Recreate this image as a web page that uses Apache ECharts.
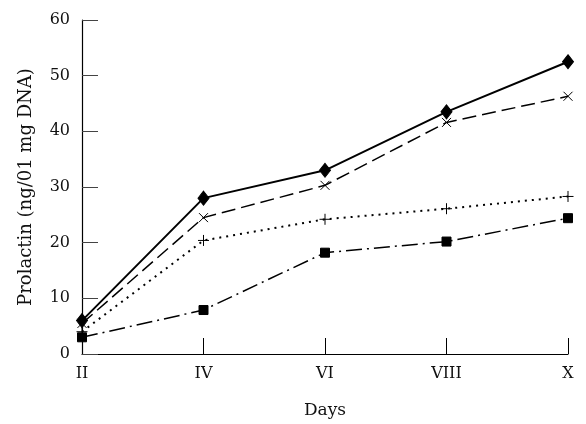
<!DOCTYPE html>
<html>
<head>
<meta charset="utf-8">
<script src="https://cdn.jsdelivr.net/npm/echarts@6/dist/echarts.min.js"></script>
<style>
  html, body { margin: 0; padding: 0; background: #fff; }
  #chart { width: 586px; height: 424px; }
</style>
</head>
<body>
<div id="chart"></div>
<script>
const days = ["II", "IV", "VI", "VIII", "X"];
const diamondValues = [6, 28, 33, 43.5, 52.5];
const crossValues = [5.5, 24.5, 30.3, 41.6, 46.3];
const plusValues = [4, 20.4, 24.2, 26.1, 28.3];
const squareValues = [3, 7.9, 18.2, 20.2, 24.4];
const yTicks = [0, 10, 20, 30, 40, 50, 60];

const chart = echarts.init(document.getElementById("chart"));
const font = "'DejaVu Serif', 'Liberation Serif', serif";

function lineSeries(name, data, lineType, symbol, size, width) {
    return {
        name: name,
        type: "line",
        data: data,
        symbol: symbol,
        symbolSize: size,
        showAllSymbol: true,
        lineStyle: { color: "#000", width: width, type: lineType },
        itemStyle: { color: "#000", borderColor: "#000", borderWidth: 1 },
        z: 3
    };
}

chart.setOption({
    animation: false,
    backgroundColor: "#fff",
    grid: { left: 82, right: 18, top: 20, bottom: 67 },
    xAxis: {
        type: "category",
        data: days,
        boundaryGap: false,
        name: "Days",
        nameLocation: "middle",
        nameGap: 48,
        nameTextStyle: { fontFamily: font, fontSize: 17, color: "#111" },
        axisLine: { lineStyle: { color: "#000", width: 1.2 } },
        axisTick: { show: true, inside: true, length: 16, lineStyle: { color: "#000" } },
        axisLabel: { fontFamily: font, fontSize: 16, color: "#111", margin: 12 },
        splitLine: { show: false }
    },
    yAxis: {
        type: "value",
        min: yTicks[0],
        max: yTicks[yTicks.length - 1],
        interval: 10,
        name: "Prolactin (ng/01 mg DNA)",
        nameLocation: "middle",
        nameGap: 47,
        nameTextStyle: { fontFamily: font, fontSize: 18, color: "#111" },
        axisLine: { show: true, lineStyle: { color: "#000", width: 1.2 } },
        axisTick: { show: true, inside: true, length: 16, lineStyle: { color: "#444" } },
        axisLabel: { fontFamily: font, fontSize: 16, color: "#111", margin: 12 },
        splitLine: { show: false }
    },
    series: [
        lineSeries("diamond", diamondValues, "solid", "diamond", [11, 14], 2),
        lineSeries("cross", crossValues, [14, 6], "path://M0,0L10,10M10,0L0,10", 9, 1.5),
        lineSeries("plus", plusValues, [2, 5], "path://M5,0L5,10M0,5L10,5", 11, 2),
        lineSeries("square", squareValues, [16, 5, 2, 5], "rect", 9, 1.5)
    ]
});
</script>
</body>
</html>
